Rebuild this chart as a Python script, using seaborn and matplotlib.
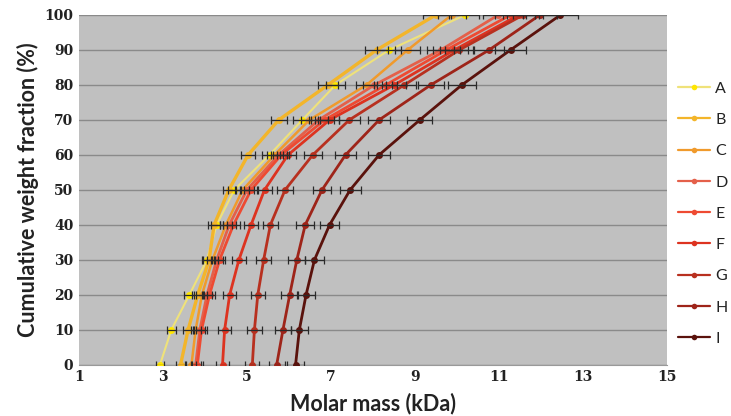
import matplotlib
matplotlib.use("Agg")
import matplotlib.pyplot as plt
import seaborn as sns
import pandas as pd

# ---------------- data ----------------
frac = [0, 10, 20, 30, 40, 50, 60, 70, 80, 90, 100]
series_names = ["A", "B", "C", "D", "E", "F", "G", "H", "I"]

A = [2.93, 3.20, 3.63, 4.05, 4.28, 4.70, 5.54, 6.32, 7.11, 8.39, 10.20]
B = [3.42, 3.60, 3.83, 4.10, 4.22, 4.57, 5.03, 5.76, 6.93, 8.09, 9.50]
C = [3.68, 3.78, 3.93, 4.18, 4.50, 4.90, 5.66, 6.49, 7.85, 8.83, 9.88]
D = [3.78, 3.88, 4.05, 4.28, 4.58, 5.00, 5.76, 6.71, 8.04, 9.62, 10.99]
E = [3.82, 3.92, 4.11, 4.35, 4.68, 5.10, 5.82, 6.85, 8.31, 9.75, 11.28]
F = [4.42, 4.47, 4.59, 4.81, 5.10, 5.42, 5.98, 6.97, 8.51, 9.94, 11.48]
G = [5.13, 5.18, 5.26, 5.40, 5.56, 5.91, 6.57, 7.44, 8.75, 10.06, 11.58]
H = [5.71, 5.86, 6.02, 6.19, 6.39, 6.79, 7.35, 8.15, 9.38, 10.77, 11.98]
I = [6.16, 6.25, 6.41, 6.61, 6.97, 7.46, 8.15, 9.12, 10.12, 11.28, 12.47]

A_err = [0.10, 0.11, 0.12, 0.13, 0.14, 0.16, 0.18, 0.21, 0.23, 0.28, 0.34]
B_err = [0.11, 0.12, 0.13, 0.14, 0.14, 0.15, 0.17, 0.19, 0.23, 0.27, 0.31]
C_err = [0.12, 0.12, 0.13, 0.14, 0.15, 0.16, 0.19, 0.21, 0.26, 0.29, 0.33]
D_err = [0.12, 0.13, 0.13, 0.14, 0.15, 0.17, 0.19, 0.22, 0.27, 0.32, 0.36]
E_err = [0.13, 0.13, 0.14, 0.14, 0.15, 0.17, 0.19, 0.23, 0.27, 0.32, 0.37]
F_err = [0.15, 0.15, 0.15, 0.16, 0.17, 0.18, 0.20, 0.23, 0.28, 0.33, 0.38]
G_err = [0.17, 0.17, 0.17, 0.18, 0.18, 0.20, 0.22, 0.25, 0.29, 0.33, 0.38]
H_err = [0.19, 0.19, 0.20, 0.20, 0.21, 0.22, 0.24, 0.27, 0.31, 0.36, 0.40]
I_err = [0.20, 0.21, 0.21, 0.22, 0.23, 0.25, 0.27, 0.30, 0.33, 0.37, 0.41]

values = [A, B, C, D, E, F, G, H, I]
errors = [A_err, B_err, C_err, D_err, E_err, F_err, G_err, H_err, I_err]

x_ticks = [1, 3, 5, 7, 9, 11, 13, 15]
y_ticks = [0, 10, 20, 30, 40, 50, 60, 70, 80, 90, 100]

colors = ["#FFE600", "#F3B52A", "#F09A2C", "#E4604A", "#EE4A32",
          "#DD3320", "#B8301F", "#9E2419", "#5A120C"]
line_colors = ["#EFE27A", "#F3B52A", "#F09A2C", "#E4604A", "#EE4A32",
               "#DD3320", "#B8301F", "#9E2419", "#5A120C"]
line_widths = [1.5, 2.4, 1.8, 2.0, 2.0, 2.0, 2.0, 2.0, 2.0]

# ---------------- table ----------------
rows = []
for name, vals, errs in zip(series_names, values, errors):
    for f, v, e in zip(frac, vals, errs):
        rows.append({"series": name, "mass": v, "frac": f, "err": e})
df = pd.DataFrame(rows)

# ---------------- plot ----------------
sns.set_style("white")
plt.rcParams["font.family"] = ["Lato", "DejaVu Sans"]

fig = plt.figure(figsize=(7.31, 4.16), dpi=100)
ax = fig.add_axes([0.108, 0.123, 0.804, 0.841])
ax.set_facecolor("#C0C0C0")

palette = dict(zip(series_names, colors))
sns.lineplot(data=df, x="mass", y="frac", hue="series", palette=palette,
             sort=False, estimator=None, marker="o", markersize=5,
             markeredgewidth=0, linewidth=2.0, ax=ax, zorder=3)

for ln, lc, mc, lw in zip(ax.lines[:len(series_names)], line_colors, colors, line_widths):
    ln.set_color(lc)
    ln.set_markerfacecolor(mc)
    ln.set_markeredgecolor(mc)
    ln.set_linewidth(lw)

ax.errorbar(df["mass"], df["frac"], xerr=df["err"], fmt="none",
            ecolor="#2a2a2a", elinewidth=0.9, capsize=3, capthick=0.9, zorder=4)

ax.set_xlim(1, 15)
ax.set_ylim(0, 100)
ax.set_xticks(x_ticks)
ax.set_yticks(y_ticks)
ax.set_xticklabels([str(t) for t in x_ticks], family=["DejaVu Serif"], fontweight="bold", fontsize=10)
ax.set_yticklabels([str(t) for t in y_ticks], family=["DejaVu Serif"], fontweight="bold", fontsize=10)
ax.tick_params(axis="both", length=0, pad=4, colors="#222222")

ax.yaxis.grid(True, color="#8A8A8A", linewidth=1.0)
ax.xaxis.grid(False)
ax.set_axisbelow(True)
for s in ax.spines.values():
    s.set_visible(False)
ax.spines["bottom"].set_visible(True)
ax.spines["bottom"].set_color("#999999")

ax.set_xlabel("Molar mass (kDa)", fontsize=15.5, fontweight="bold", color="#222222", labelpad=6)
ax.set_ylabel("Cumulative weight fraction (%)", fontsize=15.5, fontweight="bold", color="#222222", labelpad=4)

handles, labels = ax.get_legend_handles_labels()
for h, lc, mc in zip(handles, line_colors, colors):
    h.set_color(lc)
    h.set_markerfacecolor(mc)
    h.set_markeredgecolor(mc)
    h.set_markersize(4)
    h.set_linewidth(1.6)
ax.legend(handles, labels, loc="center left", bbox_to_anchor=(1.02, 0.432),
          frameon=False, borderaxespad=0, borderpad=0, handlelength=2.0,
          handletextpad=0.3, labelspacing=1.07, fontsize=11.5,
          labelcolor="#222222")

fig.savefig("out.png", dpi=100, facecolor="white")
